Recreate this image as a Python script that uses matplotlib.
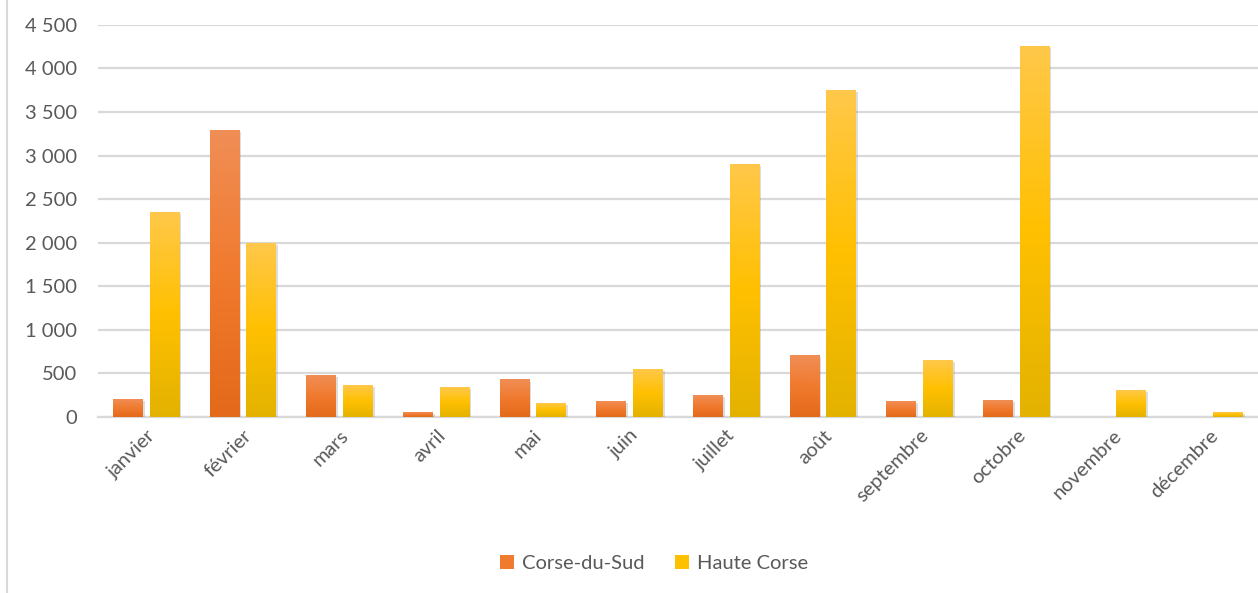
import numpy as np
import matplotlib
matplotlib.use('Agg')
import matplotlib.pyplot as plt
import matplotlib.ticker as ticker
import matplotlib.patheffects as pe
from matplotlib.colors import LinearSegmentedColormap
from matplotlib.lines import Line2D
from matplotlib.patches import Patch

months = ['janvier', 'février', 'mars', 'avril', 'mai', 'juin', 'juillet',
          'août', 'septembre', 'octobre', 'novembre', 'décembre']
corse_du_sud = [200, 3290, 480, 50, 425, 180, 250, 710, 180, 195, 0, 0]
haute_corse = [2350, 1990, 365, 340, 150, 550, 2900, 3750, 650, 4250, 300, 50]

plt.rcParams['font.family'] = ['Lato', 'DejaVu Sans']

fig = plt.figure(figsize=(12.58, 5.93), dpi=100)
ax = fig.add_axes([0.078, 0.297, 0.922, 0.661])

x = np.arange(len(months))
w = 0.31
off = 0.19

# gradient colour maps (bottom -> top)
cmap_sud = LinearSegmentedColormap.from_list('sud', ['#E4691A', '#F07A2E', '#F08E56'])
cmap_haute = LinearSegmentedColormap.from_list('haute', ['#E3B200', '#FFC000', '#FFC84A'])
grad = np.linspace(0, 1, 256).reshape(-1, 1)

shadow = [pe.SimplePatchShadow(offset=(1.2, -1.2), shadow_rgbFace='#909090', alpha=0.3), pe.Normal()]

for vals, pos, col, cm in [(corse_du_sud, x - off, '#F07A2E', cmap_sud),
                           (haute_corse, x + off, '#FFC000', cmap_haute)]:
    bars = ax.bar(pos, vals, width=w, color=col, zorder=3, path_effects=shadow)
    for b in bars:
        x0, h = b.get_x(), b.get_height()
        if h <= 0:
            continue
        ax.imshow(grad, extent=[x0, x0 + b.get_width(), 0, h], origin='lower',
                  aspect='auto', cmap=cm, zorder=4, interpolation='bilinear')

ax.set_xlim(-0.5, len(months) - 0.5)
ax.set_ylim(0, 4500)
ax.set_aspect('auto')
ax.yaxis.set_major_locator(ticker.MultipleLocator(500))
ax.yaxis.set_major_formatter(ticker.FuncFormatter(lambda v, p: f'{int(v):,}'.replace(',', ' ')))
ax.grid(axis='y', color='#D9D9D9', linewidth=1.6, zorder=0)
ax.set_axisbelow(True)
for s in ['top', 'right', 'left']:
    ax.spines[s].set_visible(False)
ax.spines['bottom'].set_color('#D9D9D9')
ax.spines['bottom'].set_linewidth(1.6)
ax.tick_params(axis='both', length=0, colors='#595959', labelsize=14.5)
ax.tick_params(axis='y', pad=15)
ax.set_xticks(x)
ax.set_xticklabels(months, rotation=45, ha='right', rotation_mode='anchor')
ax.tick_params(axis='x', pad=7)

handles = [Patch(facecolor='#F07A2E', label='Corse-du-Sud'),
           Patch(facecolor='#FFC000', label='Haute Corse')]
fig.legend(handles=handles, loc='center', bbox_to_anchor=(0.52, 0.05), ncol=2,
           frameon=False, fontsize=14.5, labelcolor='#595959',
           handlelength=0.7, handleheight=0.7, handletextpad=0.4, columnspacing=1.5)

fig.add_artist(Line2D([0.0056, 0.0056], [0, 1], color='#D9D9D9', linewidth=1.5))

fig.savefig('out.png', dpi=100)
